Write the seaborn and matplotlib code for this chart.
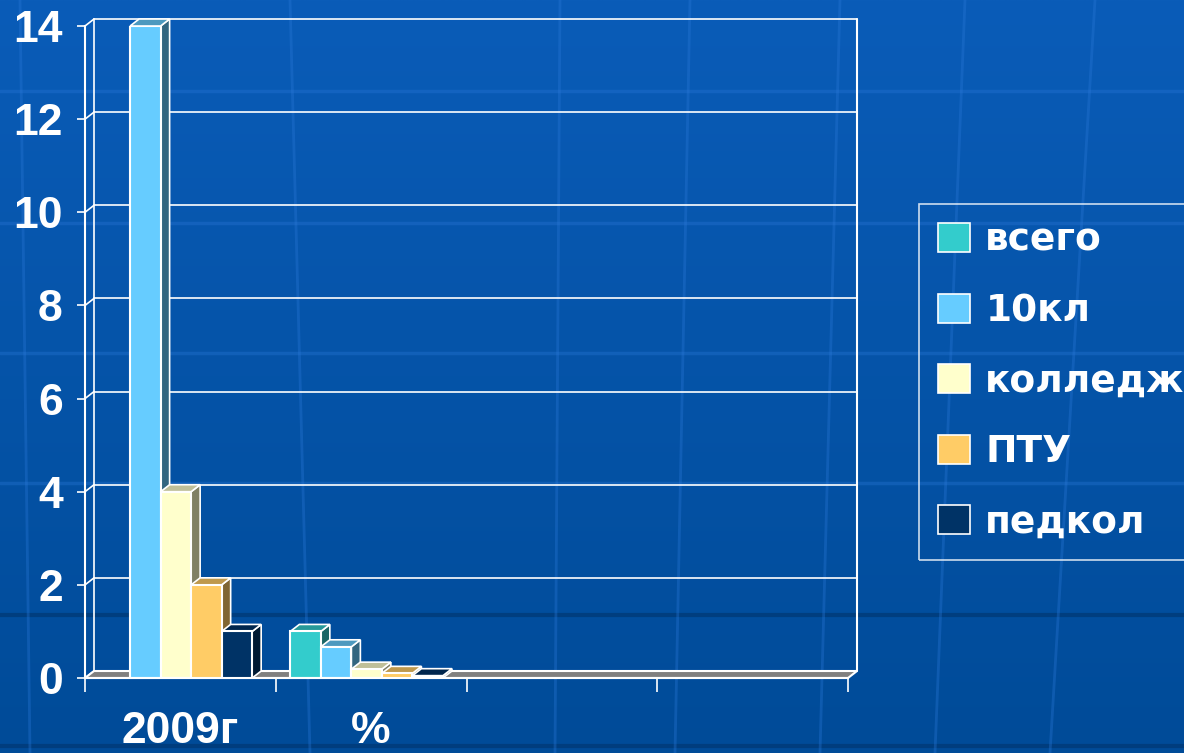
import numpy as np
import pandas as pd
import matplotlib
matplotlib.use("Agg")
import matplotlib.pyplot as plt
import seaborn as sns
from matplotlib.patches import Polygon, Patch
from matplotlib.colors import to_rgb

# ---- data ----
categories = ["2009г", "%"]
empty_slots = ["", " "]
series = ["всего", "10кл", "колледж", "ПТУ", "педкол"]
values_2009 = [0, 14, 4, 2, 1]
values_pct = [1.0, 0.67, 0.19, 0.1, 0.05]
colors = ["#33cccc", "#66ccff", "#ffffcc", "#ffcc66", "#003366"]
y_ticks = [0, 2, 4, 6, 8, 10, 12, 14]

df = pd.DataFrame({
    "category": [c for c in categories for _ in series],
    "series": series * 2,
    "value": values_2009 + values_pct,
})

sns.set_theme(style="white")
plt.rcParams['font.family'] = ['Liberation Sans', 'DejaVu Sans']

W, H = 1184, 753
fig = plt.figure(figsize=(W / 100, H / 100), dpi=100)

# ---- background ----
bg = fig.add_axes([0, 0, 1, 1], zorder=-5)
g = np.linspace(0, 1, 256)[:, None, None]
ctop = np.array(to_rgb("#0a5cb8"))
cbot = np.array(to_rgb("#004b98"))
img = ctop * (1 - g) + cbot * g
img = np.repeat(img, 4, axis=1)
bg.imshow(img, aspect='auto', extent=[0, W, H, 0])
for yy in [91, 223, 353, 483]:
    bg.plot([0, W], [yy, yy], color="#2a78d8", lw=2.5, alpha=0.35)
for yy in [615, 746]:
    bg.plot([0, W], [yy, yy], color="#003a78", lw=3, alpha=0.8)
for x0, x1 in [(20, 30), (290, 310), (560, 555), (690, 675), (840, 820), (965, 935), (1095, 1050)]:
    bg.plot([x0, x1], [0, H], color="#2a78d8", lw=2, alpha=0.35)
bg.set_xlim(0, W)
bg.set_ylim(H, 0)
bg.axis('off')

# ---- main axes ----
left, right, ybot, ytop = 85, 848, 678, 26
ax = fig.add_axes([left / W, (H - ybot) / H, (right - left) / W, (ybot - ytop) / H])
ax.set_facecolor("none")

sns.barplot(data=df, x="category", y="value", hue="series", hue_order=series,
            order=categories + empty_slots, palette=colors, width=0.8, dodge=True,
            saturation=1, edgecolor="white", linewidth=1.5, legend=False, ax=ax)

ax.set_xlim(-0.5, 3.5)
ax.set_ylim(0, 14)

DX = 9 / ((right - left) / 4.0)
DY = 7 / ((ybot - ytop) / 14.0)

# back wall + gridlines
for yv in y_ticks:
    ax.plot([-0.5 + DX, 3.5 + DX], [yv + DY, yv + DY], color="white", lw=1.2,
            zorder=1, clip_on=False)
    ax.plot([-0.5, -0.5 + DX], [yv, yv + DY], color="white", lw=1.2, zorder=1, clip_on=False)
ax.plot([-0.5 + DX, -0.5 + DX], [DY, 14 + DY], color="white", lw=1.2, zorder=1, clip_on=False)
ax.plot([3.5 + DX, 3.5 + DX], [DY, 14 + DY], color="white", lw=1.5, zorder=1, clip_on=False)

# floor
floor = Polygon([(-0.5, 0), (3.5, 0), (3.5 + DX, DY), (-0.5 + DX, DY)], closed=True,
                facecolor="#808080", edgecolor="white", lw=1.5, zorder=2, clip_on=False)
ax.add_patch(floor)

# 3D bars (front faces nudged left by half the depth, as in a 3D projection)
for i, cont in enumerate(ax.containers):
    face = np.array(to_rgb(colors[i]))
    side_c = face * 0.5
    top_c = face * 0.75
    for bar in cont:
        h = bar.get_height()
        if not np.isfinite(h) or h <= 0:
            bar.set_visible(False)
            continue
        bar.set_x(bar.get_x() - DX / 2)
        x0 = bar.get_x()
        w = bar.get_width()
        z = 3 + i
        bar.set_zorder(z + 0.2)
        side = Polygon([(x0 + w, 0), (x0 + w + DX, DY), (x0 + w + DX, h + DY), (x0 + w, h)],
                       closed=True, facecolor=side_c, edgecolor="white", lw=1.2, zorder=z,
                       clip_on=False)
        topp = Polygon([(x0, h), (x0 + DX, h + DY), (x0 + w + DX, h + DY), (x0 + w, h)],
                       closed=True, facecolor=top_c, edgecolor="white", lw=1.2, zorder=z,
                       clip_on=False)
        ax.add_patch(side)
        ax.add_patch(topp)

# spines and ticks
for s in ["top", "right"]:
    ax.spines[s].set_visible(False)
for s in ["left", "bottom"]:
    ax.spines[s].set_color("white")
    ax.spines[s].set_linewidth(1.5)
    ax.spines[s].set_zorder(6)

ax.set_yticks(y_ticks)
ax.set_yticklabels([str(v) for v in y_ticks])
ax.set_xticks([0, 1, 2, 3])
ax.set_xticklabels(categories + empty_slots)
ax.set_xticks([-0.5, 0.5, 1.5, 2.5, 3.5], minor=True)
ax.tick_params(axis="y", which="major", left=True, length=6, width=1.2, color="white",
               labelcolor="white", labelsize=32, pad=10)
ax.tick_params(axis="x", which="major", bottom=False, length=0, labelcolor="white",
               labelsize=32, pad=24)
ax.tick_params(axis="x", which="minor", bottom=True, length=10, width=1.2, color="white")
for lab in ax.get_xticklabels() + ax.get_yticklabels():
    lab.set_fontweight("bold")
ax.set_xlabel("")
ax.set_ylabel("")

# legend
handles = [Patch(facecolor=c, edgecolor="white", lw=1.2, label=s) for c, s in zip(colors, series)]
leg = fig.legend(handles=handles, loc="upper left", bbox_to_anchor=(919 / W, 1 - 204 / H),
                 frameon=True, fancybox=False, edgecolor="white", facecolor="none",
                 prop={"size": 27, "weight": "bold", "family": ["DejaVu Sans"]},
                 labelcolor="white",
                 handlelength=0.85, handleheight=0.8, handletextpad=0.42,
                 labelspacing=0.92, borderpad=0.5, borderaxespad=0)
leg.get_frame().set_linewidth(1.2)

fig.savefig("out.png", dpi=100)
